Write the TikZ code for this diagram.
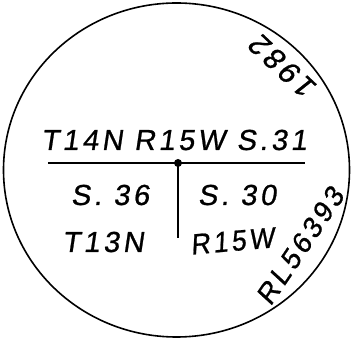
\documentclass[tikz,border=0pt]{standalone}
\usetikzlibrary{shapes.geometric}
\usepackage{fontspec}
\setmainfont{Liberation Sans}[FakeSlant=0.15, LetterSpace=12, FakeBold=0.8]
\begin{document}
\begin{tikzpicture}[x=1pt,y=-1pt,
  hand/.style={font=\fontsize{29}{32}\selectfont, inner sep=0pt, anchor=base},
  ln/.style={line width=1.8pt}]
\useasboundingbox (0,0) rectangle (360,339);
\node[draw, ellipse, line width=1.6pt, minimum width=346pt, minimum height=334pt, inner sep=0pt] (circ) at (176.5,170) {};
\coordinate (L) at (48,163);
\coordinate (R) at (305,163);
\coordinate (C) at (178,163);
\coordinate (B) at (178,238);
\draw[ln] (L) -- (R);
\draw[ln] (C) -- (B);
\fill (C) circle (4pt);
\node[hand] (top) at (174,150) {T14N R15W S.31};
\node[hand] (s36) at (110,205) {S. 36};
\node[hand] (s30) at (237,205) {S. 30};
\node[hand] (t13) at (103,252) {T13N};
\node[hand, rotate=5, xscale=0.92] (r15) at (233,251) {R15W};
\node[hand, font=\fontsize{30}{32}\selectfont, rotate=137, anchor=center] (yr) at (283,67) {1982};
\node[hand, font=\fontsize{28}{30}\selectfont, rotate=56, anchor=center] (rl) at (300,246) {RL56393};
\end{tikzpicture}
\end{document}
